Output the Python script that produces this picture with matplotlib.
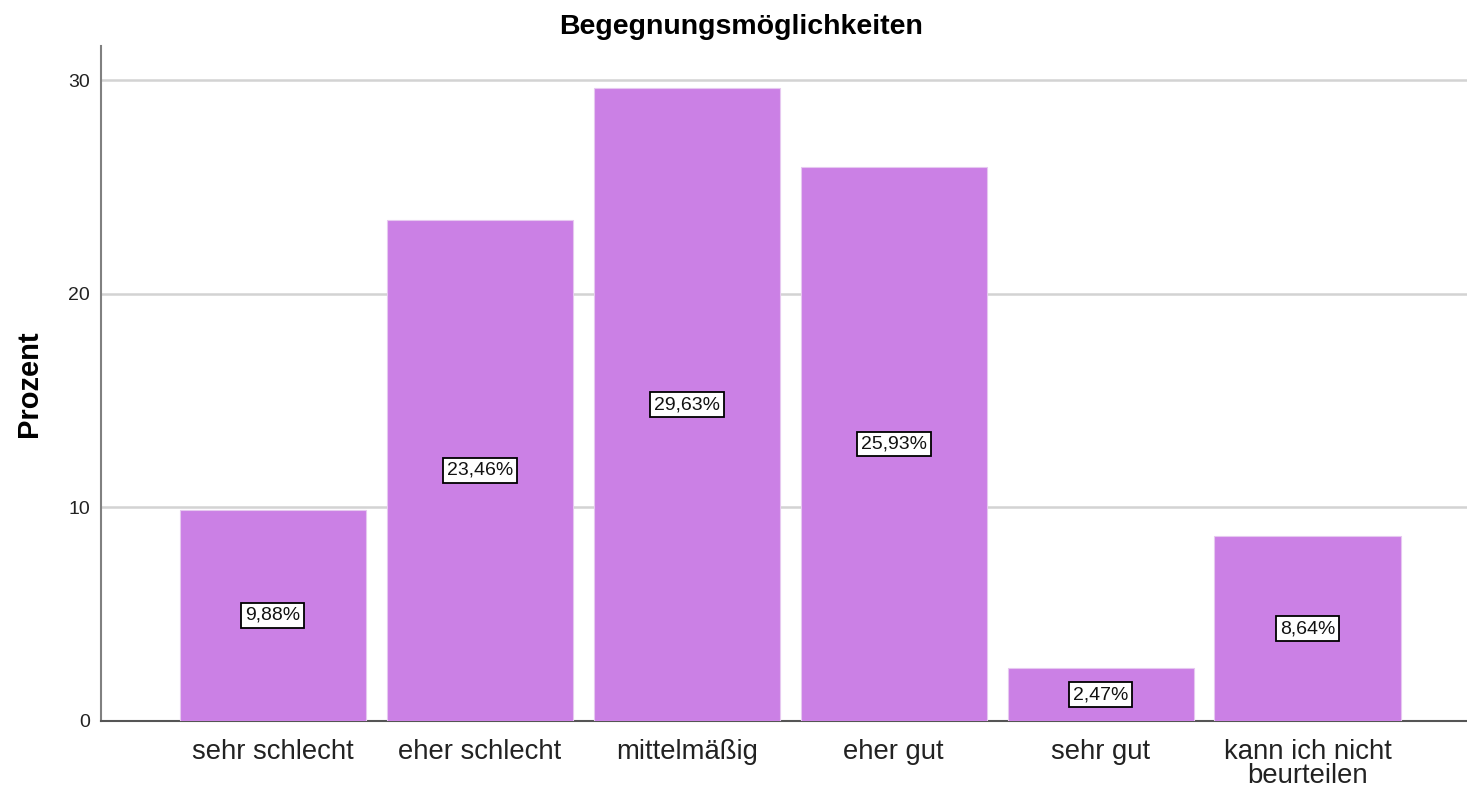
"""
Begegnungsmöglichkeiten - Balkendiagramm (Prozent)
"""
import matplotlib
matplotlib.use('Agg')
import matplotlib.pyplot as plt

plt.rcParams['font.family'] = ['Liberation Sans', 'DejaVu Sans']

# Daten
categories = ['sehr schlecht', 'eher schlecht', 'mittelmäßig', 'eher gut',
              'sehr gut', 'kann ich nicht\nbeurteilen']
percent = [9.88, 23.46, 29.63, 25.93, 2.47, 8.64]
y_ticks = [0, 10, 20, 30]

bar_color = '#CB80E5'
grid_color = '#D3D3D3'
axis_color = '#808080'

fig = plt.figure(figsize=(14.67, 7.91), dpi=100)
ax = fig.add_axes([0.0688, 0.0885, 0.9312, 0.8533])

x = range(len(categories))
ax.bar(x, percent, width=0.9, color=bar_color, edgecolor='#E6C8F0',
       linewidth=0.8, zorder=3)

# Werte-Beschriftungen in der Balkenmitte
for i, val in enumerate(percent):
    ax.text(i, val / 2, f'{val:.2f}%'.replace('.', ','), ha='center', va='center',
            fontsize=14, color='#111111', zorder=4,
            bbox=dict(boxstyle='square,pad=0.2', facecolor='white',
                      edgecolor='black', linewidth=1.3))

ax.set_xlim(-0.83, 5.77)
ax.set_ylim(0, 31.6)
ax.set_yticks(y_ticks)
ax.set_yticklabels([str(t) for t in y_ticks], fontsize=14)
ax.set_xticks(list(x))
ax.set_xticklabels(categories, fontsize=19.8, linespacing=0.92)
ax.tick_params(axis='both', length=0, colors='#222222')
ax.tick_params(axis='y', pad=8)
ax.tick_params(axis='x', pad=13)

ax.yaxis.grid(True, color=grid_color, linewidth=1.8, zorder=0)
ax.set_axisbelow(True)
for side in ['top', 'right']:
    ax.spines[side].set_visible(False)
ax.spines['left'].set_color(axis_color)
ax.spines['left'].set_linewidth(1.5)
ax.spines['bottom'].set_color('#555555')
ax.spines['bottom'].set_linewidth(1.5)

ax.set_ylabel('Prozent', fontsize=21, fontweight='bold', labelpad=18)
fig.text(0.505, 0.966, 'Begegnungsmöglichkeiten', ha='center', va='center',
         fontsize=20.5, fontweight='bold')

plt.savefig('out.png', dpi=100, facecolor='white')
plt.close()
